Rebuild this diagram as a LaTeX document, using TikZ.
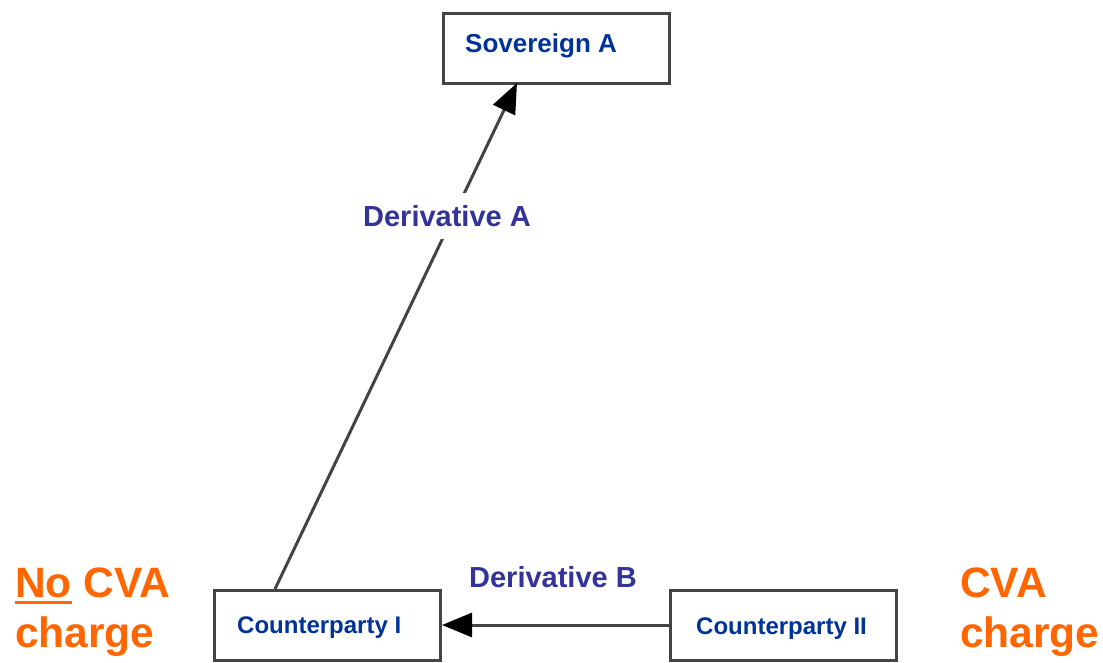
\documentclass[tikz,border=0pt]{standalone}
\usepackage{fontspec}
\setmainfont{Liberation Sans}
\usetikzlibrary{arrows.meta}
\definecolor{boxblue}{HTML}{003399}
\definecolor{derivblue}{HTML}{333399}
\definecolor{cvaorange}{HTML}{FF6600}
\definecolor{edgegray}{HTML}{444444}
\newcommand{\thickul}[1]{\setbox0\hbox{#1}\rlap{\rule[-7pt]{\wd0}{3.5pt}}\box0\relax}
\begin{document}
\begin{tikzpicture}[x=1pt,y=-1pt,
  entity/.style={draw=edgegray,line width=3pt,fill=white,minimum width=226pt,minimum height=70pt,inner sep=0pt},
  boxtext/.style={text=boxblue,font=\bfseries\fontsize{24}{28}\selectfont,anchor=west,inner sep=0pt},
  derivfont/.style={text=derivblue,font=\bfseries\fontsize{29}{33}\selectfont},
  cvatext/.style={text=cvaorange,font=\bfseries\fontsize{42.5}{50}\selectfont,align=left,anchor=west,inner sep=0pt},
  link/.style={draw=edgegray,line width=3pt,-{Triangle[length=30pt,width=24pt,color=black]}}
]
\useasboundingbox[fill=white] (0,0) rectangle (1103,662);
\node[entity] (sov) at (556,48) {};
\node[entity] (cp1) at (327.5,625) {};
\node[entity] (cp2) at (783.5,625) {};
\node[boxtext,font=\bfseries\fontsize{26}{30}\selectfont] (sovt) at (465,46) {Sovereign A};
\node[boxtext] (cp1t) at (237,628) {Counterparty I};
\node[boxtext] (cp2t) at (696,629) {Counterparty II};
\coordinate (a0) at (275,589);
\coordinate (a1) at (517,83);
\draw[link] (a0) -- (a1);
\draw[link] (cp2.west) -- (cp1.east);
\node[derivfont,fill=white,inner xsep=3pt,inner ysep=12pt] (da) at (447,216) {Derivative A};
\node[derivfont,inner sep=0pt] (db) at (553,577) {Derivative B};
\node[cvatext] (nocva) at (15,612) {\thickul{No} CVA\\charge};
\node[cvatext] (cva) at (960,612) {CVA\\charge};
\end{tikzpicture}
\end{document}
